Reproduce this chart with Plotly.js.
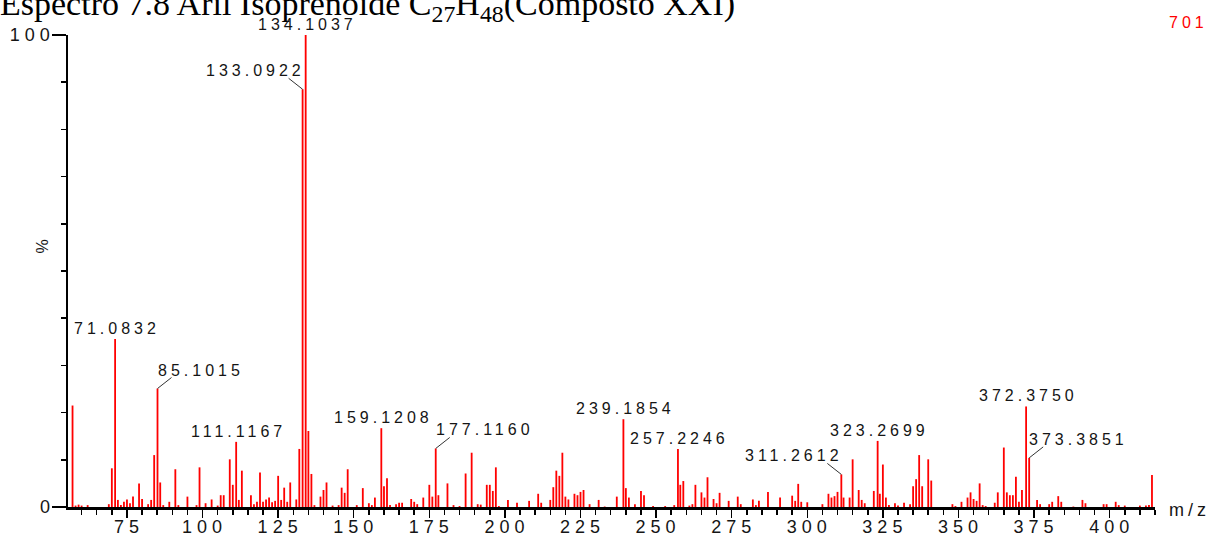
<!DOCTYPE html>
<html>
<head>
<meta charset="utf-8">
<script src="https://cdn.plot.ly/plotly-3.0.1.min.js"></script>
<style>
  html, body { margin: 0; padding: 0; background: #fff; }
  #chart { width: 1210px; height: 538px; }
  /* spaced-out instrument lettering for ticks and peak labels */
  .xtick text, .ytick text { letter-spacing: 5px; }
  .annotation-text { letter-spacing: 4px; }
</style>
</head>
<body>
<div id="chart"></div>
<script>
// Mass spectrum peaks: m/z and relative intensity (%)
const mz = [
  57, 58, 59, 60, 62, 69, 70, 71.0832, 72, 73, 74, 75, 76, 77, 79, 80, 82, 83, 84, 85.1015,
  86, 87, 89, 91, 92, 95, 98, 99, 101, 103, 105, 106, 107, 109, 110, 111.1167, 112, 113,
  116, 117, 118, 119, 120, 121, 122, 123, 124, 125, 126, 127, 128, 129, 131, 132, 133.0922,
  134.1037, 135, 136, 137, 139, 140, 141, 143, 145, 146, 147, 148, 151, 153, 155, 156, 157,
  159.1208, 160, 161, 162, 164, 165, 166, 169, 170, 171, 173, 175, 176, 177.1160, 178, 181,
  183, 185, 187, 189, 191, 192, 194, 195, 196, 197, 198, 201, 204, 208, 211, 212, 215, 216,
  217, 218, 219, 220, 221, 223, 224, 225, 226, 228, 231, 233, 237, 239.1854, 240, 241, 243,
  245, 246, 249, 253, 256, 257.2246, 258, 259, 261, 262, 263, 265, 266, 267, 269, 270, 271,
  274, 277, 278, 282, 283, 284, 287, 291, 295, 296, 297, 298, 300, 305, 307, 308, 309, 310,
  311.2612, 312, 314, 315, 317, 318, 319, 322, 323.2699, 324, 325, 326, 327, 329, 330, 332,
  334, 335, 336, 337, 338, 340, 341, 348, 349, 351, 353, 354, 355, 356, 357, 358, 359, 362,
  363, 365, 366, 367, 368, 369, 370, 371, 372.3750, 373.3851, 376, 377, 380, 381, 383, 384,
  388, 391, 392, 398, 399, 402, 403, 405, 410, 412, 413, 414
];
const intensity = [
  21.5, 0.3, 0.5, 0.3, 0.4, 0.6, 8.2, 35.6, 1.5, 0.4, 1.1, 1.6, 0.8, 2.2, 5.0, 1.7, 0.6, 1.5, 11.0, 25.1,
  5.2, 0.4, 1.1, 8.0, 0.4, 2.2, 0.4, 8.4, 0.8, 1.6, 0.3, 2.5, 2.5, 10.1, 4.7, 13.8, 1.5, 7.7,
  2.5, 0.6, 1.1, 7.3, 1.1, 1.6, 2.0, 1.0, 1.3, 6.6, 1.5, 4.1, 1.1, 5.2, 1.6, 12.3, 88.5,
  100, 16.1, 7.0, 0.4, 2.2, 3.6, 5.2, 0.3, 0.4, 4.1, 3.0, 8.0, 0.4, 4.0, 0.8, 0.4, 2.0,
  16.7, 4.4, 6.1, 0.4, 0.6, 0.9, 0.9, 1.7, 1.1, 0.6, 2.0, 4.7, 2.2, 12.4, 2.5, 5.0,
  0.4, 0.2, 7.1, 11.5, 0.6, 0.5, 4.7, 4.7, 3.4, 8.4, 0.2, 1.5, 0.9, 1.3, 2.8, 0.9, 1.5, 4.2,
  7.7, 6.6, 11.5, 2.2, 1.6, 2.8, 2.5, 3.2, 3.6, 0.6, 1.5, 0.1, 2.2, 18.6, 4.0, 2.0, 0.6,
  3.4, 2.5, 0.2, 0.2, 0.4, 12.3, 4.7, 5.5, 0.3, 0.6, 4.7, 3.1, 2.0, 6.3, 1.7, 0.8, 3.0,
  1.3, 2.2, 0.6, 1.6, 0.4, 1.3, 3.2, 2.0, 2.4, 1.3, 4.9, 1.1, 1.0, 0.6, 2.8, 2.0, 2.3, 3.2,
  6.9, 2.0, 2.0, 10.1, 3.6, 1.5, 0.8, 3.4, 14.0, 2.8, 9.0, 2.0, 0.4, 0.8, 0.3, 0.9,
  0.6, 4.4, 5.9, 11.0, 4.4, 10.1, 5.6, 0.6, 0.2, 1.1, 2.0, 3.1, 1.7, 1.3, 5.0, 0.4, 0.2, 0.9,
  3.1, 12.6, 3.1, 2.5, 2.5, 6.4, 1.1, 3.6, 21.3, 10.4, 1.5, 0.6, 0.6, 1.1, 2.3, 1.1,
  0.1, 1.5, 0.8, 0.6, 0.6, 1.1, 0.4, 0.3, 0.3, 0.3, 0.4, 6.8
];

// Peaks that carry an accurate-mass label
const labelMz = [134.1037, 133.0922, 71.0832, 85.1015, 111.1167, 159.1208, 177.1160,
                 239.1854, 257.2246, 311.2612, 323.2699, 372.3750, 373.3851];

// Axis ticks
const xTickVals = [75, 100, 125, 150, 175, 200, 225, 250, 275, 300, 325, 350, 375, 400];
const xTickText = xTickVals.map(String);
const yTickVals = [0, 100];
const yTickText = ['0', '100'];

const titleText = 'Espectro 7.8 Aril Isoprenoide C<sub>27</sub>H<sub>48</sub>(Composto XXI)';
const basePeakCount = '701';

// Labels drawn beside a short leader line: +1 to the right, -1 to the left
const leaderSide = { '133.0922': -1, '85.1015': 1, '177.1160': 1, '311.2612': -1, '373.3851': 1 };

const labelFont = { family: 'Liberation Sans, Arial, sans-serif', size: 16, color: '#151515' };
const tickFont = { family: 'Liberation Sans, Arial, sans-serif', size: 18, color: '#151515' };

const annotations = [];
const shapes = [];
labelMz.forEach(function (m) {
  const idx = mz.indexOf(m);
  const y = intensity[idx];
  const txt = m.toFixed(4);
  const side = leaderSide[txt];
  if (side) {
    // short leader line anchored on the peak tip, sized in pixels
    shapes.push({
      type: 'line', xref: 'x', yref: 'y',
      xsizemode: 'pixel', xanchor: m, x0: 0, x1: side * 14,
      ysizemode: 'pixel', yanchor: y, y0: 0, y1: 11,
      line: { color: '#333', width: 1 }
    });
    annotations.push({
      x: m, y: y, xref: 'x', yref: 'y', text: txt, showarrow: false,
      xanchor: side > 0 ? 'left' : 'right', yanchor: 'bottom',
      xshift: side > 0 ? -2 : 4, yshift: 8, font: labelFont
    });
  } else {
    annotations.push({
      x: m, y: y, xref: 'x', yref: 'y', text: txt, showarrow: false,
      xanchor: 'center', yanchor: 'bottom', xshift: 2, yshift: 0, font: labelFont
    });
  }
});

// axis captions and base-peak counter
annotations.push({
  xref: 'paper', yref: 'paper', x: 0, y: 0.555, xshift: -36, text: '%',
  textangle: -90, showarrow: false, font: labelFont
});
annotations.push({
  xref: 'paper', yref: 'paper', x: 1, y: 0, xanchor: 'left', yanchor: 'middle',
  xshift: 12, yshift: -3, text: 'm/z', showarrow: false, font: tickFont
});
annotations.push({
  xref: 'paper', yref: 'paper', x: 1, y: 1, xanchor: 'center', yanchor: 'middle',
  xshift: 33, yshift: 13, text: basePeakCount, showarrow: false,
  font: { family: labelFont.family, size: 16, color: '#ff0000' }
});

const trace = {
  type: 'bar', x: mz, y: intensity, width: 0.6,
  marker: { color: '#ff0000', line: { width: 0 } },
  hoverinfo: 'x+y'
};

const layout = {
  width: 1210, height: 538,
  margin: { l: 68, r: 55, t: 35, b: 31 },
  paper_bgcolor: '#fff', plot_bgcolor: '#fff',
  showlegend: false,
  title: {
    text: titleText,
    font: { family: 'Liberation Serif, Times New Roman, serif', size: 34, color: '#000' },
    xref: 'container', yref: 'container', x: 0, xanchor: 'left', y: 0.995, yanchor: 'middle'
  },
  xaxis: {
    range: [55.5, 415], showgrid: false, zeroline: false,
    showline: true, linecolor: '#000', linewidth: 2.5,
    ticks: 'outside', ticklen: 8, tickwidth: 1.5, tickcolor: '#000',
    tickmode: 'array', tickvals: xTickVals, ticktext: xTickText,
    minor: { tickmode: 'linear', tick0: 0, dtick: 5, ticks: 'outside', ticklen: 5, tickwidth: 1.5, tickcolor: '#000' },
    tickfont: tickFont, ticklabelstandoff: -6, ticklabelshift: 2, fixedrange: true
  },
  yaxis: {
    range: [0, 100], showgrid: false, zeroline: false,
    showline: true, linecolor: '#000', linewidth: 2.5,
    ticks: 'outside', ticklen: 14, tickwidth: 1.5, tickcolor: '#000',
    tickmode: 'array', tickvals: yTickVals, ticktext: yTickText,
    minor: { tickmode: 'linear', tick0: 0, dtick: 10, ticks: 'outside', ticklen: 5, tickwidth: 1.5, tickcolor: '#000' },
    tickfont: tickFont, ticklabelstandoff: -7, fixedrange: true
  },
  shapes: shapes,
  annotations: annotations
};

Plotly.newPlot('chart', [trace], layout, { staticPlot: true, displayModeBar: false });
</script>
</body>
</html>
